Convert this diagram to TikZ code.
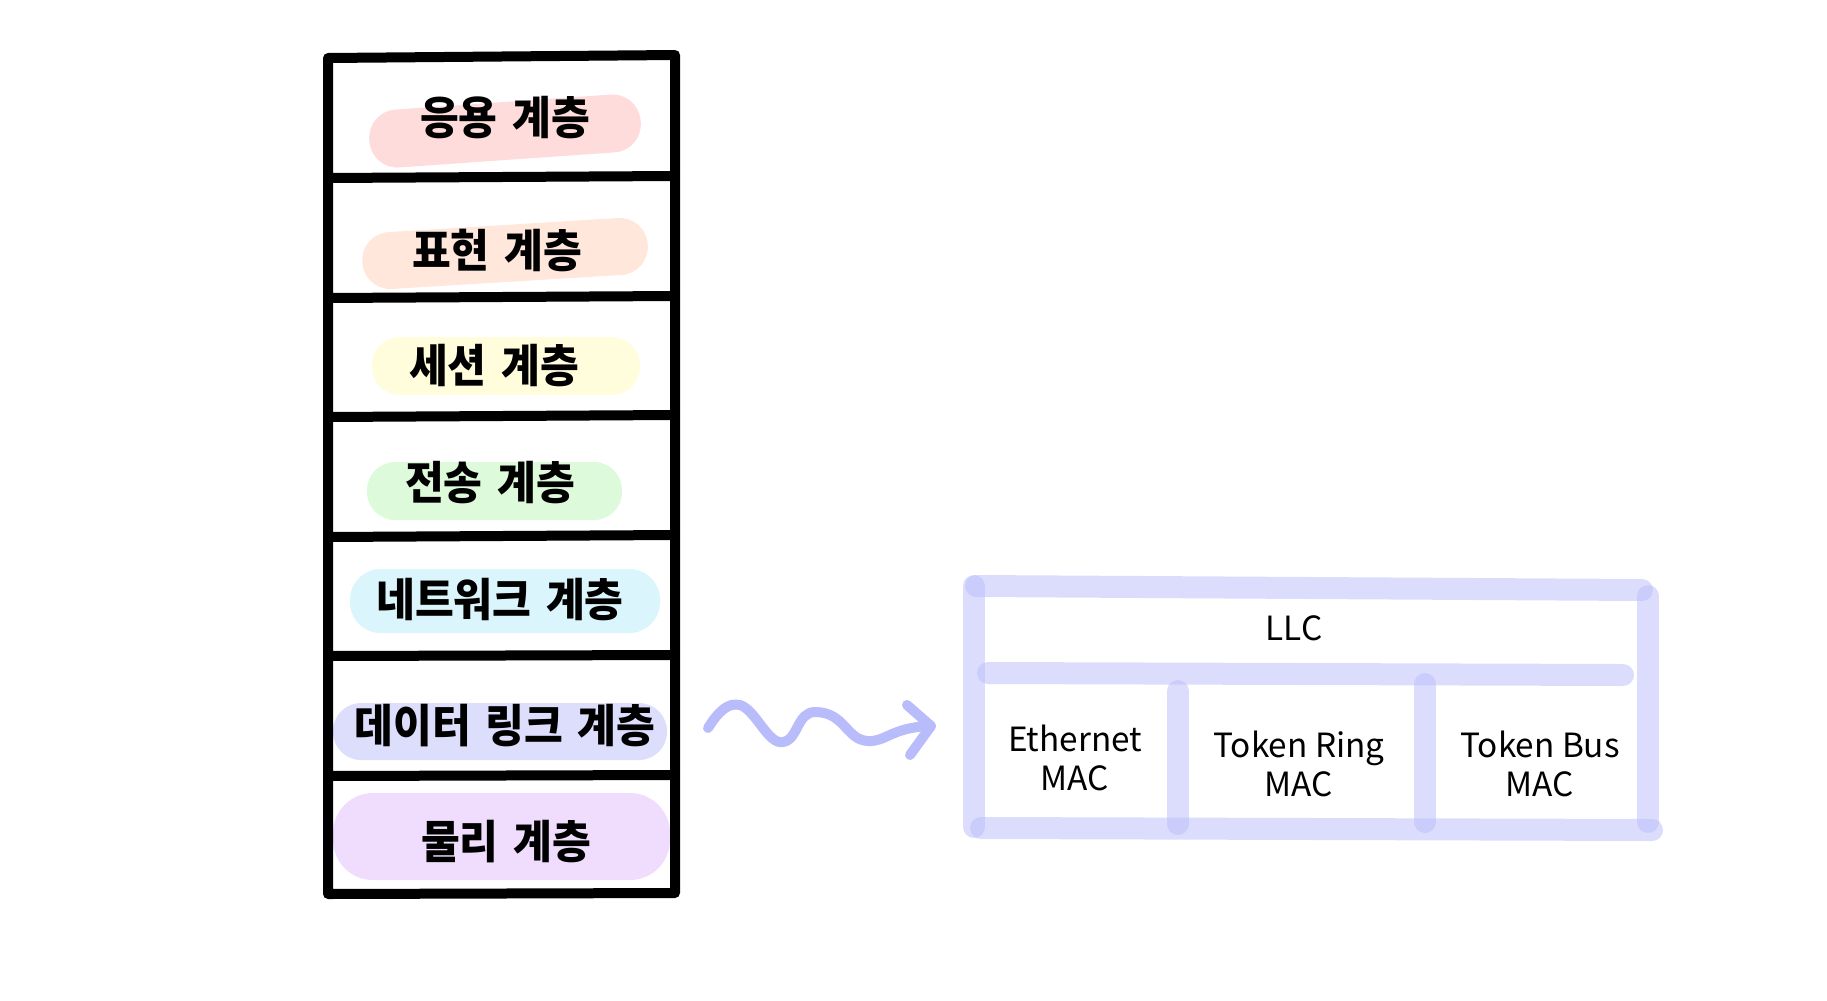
\documentclass[tikz,border=0pt]{standalone}
\usepackage{fontspec}
\setmainfont{Noto Sans CJK KR}
\newfontfamily\krfont[FakeStretch=0.93,WordSpace=1.5]{Noto Sans CJK KR}
\definecolor{pillred}{RGB}{255,220,220}
\definecolor{pillorange}{RGB}{255,231,220}
\definecolor{pillyellow}{RGB}{255,253,220}
\definecolor{pillgreen}{RGB}{221,250,218}
\definecolor{pillcyan}{RGB}{218,246,252}
\definecolor{pillblue}{RGB}{220,222,252}
\definecolor{pillviolet}{RGB}{240,220,252}
\definecolor{macblue}{RGB}{185,188,250}

\tikzset{every picture/.style={line width=0.75pt}}

\begin{document}
\begin{tikzpicture}[x=0.75pt,y=0.75pt,yscale=-1,xscale=1,
	stackline/.style={draw=black, line width=7.5pt, line cap=round, line join=round},
	layertext/.style={inner sep=0.75pt, font=\krfont\bfseries\fontsize{34}{38}\selectfont},
	macbar/.style={draw=macblue, draw opacity=0.5, line width=16.5pt, line cap=round},
	mactext/.style={inner sep=0.75pt, align=center, font=\fontsize{25}{29.5}\selectfont},
	wave/.style={draw=macblue, line width=7.5pt, line cap=round, line join=round}]
	\useasboundingbox (0,0) rectangle (1827,1000);

	%Shape: Highlight [app]
	\fill [pillred, rounded corners=21pt, rotate around={-4:(505,131)}] (369,102) rectangle (641,160) ;
	%Shape: Highlight [pres]
	\fill [pillorange, rounded corners=21pt, rotate around={-3.5:(505,253)}] (362,225) rectangle (648,282) ;
	%Shape: Highlight [sess]
	\fill [pillyellow, rounded corners=21pt] (372,337) rectangle (640,395) ;
	%Shape: Highlight [trans]
	\fill [pillgreen, rounded corners=21pt] (367,462) rectangle (622,520) ;
	%Shape: Highlight [net]
	\fill [pillcyan, rounded corners=23pt] (350,569) rectangle (660,633) ;
	%Shape: Highlight [link]
	\fill [pillblue, rounded corners=21pt] (333,703) rectangle (667,760) ;
	%Shape: Highlight [phys]
	\fill [pillviolet, rounded corners=30pt] (333,793) rectangle (670,880) ;

	%Shape: Stack
	\draw [stackline] (328,58) -- (675,55) -- (675,893) -- (328,894) -- cycle ;
	%Straight Lines
	\draw [stackline] (328,178) -- (675,176) ;
	\draw [stackline] (328,298) -- (675,296) ;
	\draw [stackline] (328,417) -- (675,415) ;
	\draw [stackline] (328,537) -- (675,535) ;
	\draw [stackline] (328,656) -- (675,655) ;
	\draw [stackline] (328,776) -- (675,775) ;

	% Text Node
	\draw (505,118) node [layertext] (app) {응용 계층};
	% Text Node
	\draw (497,250) node [layertext] (pres) {표현 계층};
	% Text Node
	\draw (494,366) node [layertext] (sess) {세션 계층};
	% Text Node
	\draw (490,483) node [layertext] (trans) {전송 계층};
	% Text Node
	\draw (500,600) node [layertext] (net) {네트워크 계층};
	% Text Node
	\draw (505,726) node [layertext] (link) {데이터 링크 계층};
	% Text Node
	\draw (506,842) node [layertext] (phys) {물리 계층};

	%Curve Lines
	\coordinate (wavestart) at (708,728);
	\coordinate (wavetip) at (931,726);
	\draw [wave] (wavestart) .. controls (718,712) and (728,702) .. (740,705) .. controls (756,710) and (768,745) .. (783,742) .. controls (798,740) and (797,712) .. (815,712) .. controls (845,712) and (846,740) .. (868,741) .. controls (886,742) and (892,727) .. (wavetip) ;
	\draw [wave] (907,705) -- (wavetip) -- (910,755) ;

	%Shape: MAC block
	\draw [macbar] (976,586) -- (1642,590) ;
	\draw [macbar] (974,586) -- (974,827) ;
	\draw [macbar] (1648,596) -- (1648,822) ;
	\draw [macbar] (988,673) -- (1623,675) ;
	\draw [macbar] (981,828) -- (1652,830) ;
	\draw [macbar] (1178,691) -- (1178,824) ;
	\draw [macbar] (1425,684) -- (1425,822) ;

	% Text Node
	\draw (1294,628) node [mactext] (llc) {LLC};
	% Text Node
	\draw (1075,758) node [mactext] (eth) {Ethernet\\MAC};
	% Text Node
	\draw (1299,764) node [mactext] (ring) {Token Ring\\MAC};
	% Text Node
	\draw (1540,764) node [mactext] (bus) {Token Bus\\MAC};

\end{tikzpicture}
\end{document}
